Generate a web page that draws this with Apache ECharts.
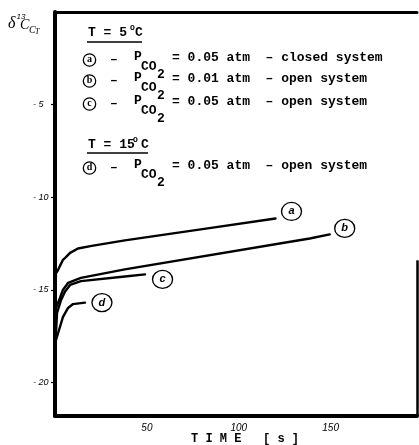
<!DOCTYPE html>
<html>
<head>
<meta charset="utf-8">
<script src="https://cdn.jsdelivr.net/npm/echarts@6/dist/echarts.min.js"></script>
<style>
html,body{margin:0;padding:0;background:#fff;}
#chart{width:419px;height:445px;}
</style>
</head>
<body>
<div id="chart"></div>
<script>
// ---- data (time [s], delta13C of CT) ----
const T_A = [0, 0.3, 0.5, 1.5, 2.7, 4.3, 5.4, 8.2, 12.5, 20, 38, 84, 120];
const V_A = [-18.4, -15.6, -14.1, -13.95, -13.7, -13.38, -13.28, -13.0, -12.76, -12.62, -12.32, -11.66, -11.14];

const T_B = [0, 0.5, 2.7, 4.3, 7.1, 14.1, 38, 138.6, 149.5];
const V_B = [-18.4, -15.97, -15.43, -15.0, -14.62, -14.35, -13.89, -12.22, -12.0];

const T_C = [0, 1.1, 3.3, 5.4, 8.2, 14.1, 38, 49];
const V_C = [-18.4, -16.24, -15.54, -15.1, -14.73, -14.52, -14.27, -14.16];

const T_D = [0, 0.5, 2.2, 4.3, 7.1, 9.8, 16.3];
const V_D = [-18.4, -17.7, -17.16, -16.46, -15.97, -15.76, -15.68];

const CURVE_LETTERS = ['a', 'b', 'c', 'd'];
const X_TICKS = [50, 100, 150];
const Y_TICKS = [-20, -15, -10, -5];
const X_MIN = 0, X_MAX = 197, Y_MIN = -21.8, Y_MAX = 0;

const LEGEND_LETTERS = ['a', 'b', 'c', 'd'];
const LEGEND_TEXT = [
  '= 0.05 atm  \u2013 closed system',
  '= 0.01 atm  \u2013 open system',
  '= 0.05 atm  \u2013 open system',
  '= 0.05 atm  \u2013 open system'
];

// ---- helpers ----
const MONO = '"Liberation Mono", "DejaVu Sans Mono", monospace';
function zip(t, v) { return t.map((x, i) => [x, v[i]]); }
function txt(s, x, y, font, align) {
  return { type: 'text', x: x, y: y, silent: true,
    style: { text: s, font: font || ('bold 13px ' + MONO), fill: '#000',
             align: align || 'left', verticalAlign: 'middle' } };
}
function legendRow(letter, text, y0) {
  return [
    { type: 'circle', shape: { cx: 89.5, cy: y0 + 3, r: 6.2 },
      style: { fill: 'none', stroke: '#000', lineWidth: 1.3 } },
    txt(letter, 89.5, y0 + 2.5, 'bold 10px "Liberation Serif", serif', 'center'),
    txt('\u2013', 110, y0 + 3),
    txt('P', 134, y0),
    txt('CO', 141, y0 + 10),
    txt('2', 157, y0 + 18),
    txt(text, 172, y0 + 1)
  ];
}
const ROW_Y = [57, 78, 101, 165];

const graphics = [];
// y-axis title  delta 13 C CT
graphics.push(txt('\u03b4', 8, 24, 'italic 16px "Liberation Serif", serif'));
graphics.push(txt('13', 16.5, 17, 'italic 8px "Liberation Sans", sans-serif'));
graphics.push(txt('C', 20, 25, 'italic 14px "Liberation Serif", serif'));
graphics.push(txt('C', 29, 30, 'italic 10px "Liberation Serif", serif'));
graphics.push(txt('T', 35, 32, 'italic 8px "Liberation Serif", serif'));
// T = 5 C
graphics.push(txt('T = 5', 88, 33));
graphics.push(txt('O', 130, 28, 'bold 8px ' + MONO));
graphics.push(txt('C', 135, 33));
graphics.push({ type: 'line', shape: { x1: 87, y1: 42, x2: 142, y2: 42 }, style: { stroke: '#000', lineWidth: 1.4 } });
// T = 15 C
graphics.push(txt('T = 15', 88, 145));
graphics.push(txt('O', 133, 140, 'bold 8px ' + MONO));
graphics.push(txt('C', 141, 145));
graphics.push({ type: 'line', shape: { x1: 87, y1: 153, x2: 148, y2: 153 }, style: { stroke: '#000', lineWidth: 1.4 } });
for (let i = 0; i < 4; i++) graphics.push(...legendRow(LEGEND_LETTERS[i], LEGEND_TEXT[i], ROW_Y[i]));

const LABEL_OFFSETS = [[16, -7], [15, -6], [17.5, 5], [17, 0]];
function curve(name, t, v, idx, extra) {
  const s = {
    name: name, type: 'line', data: zip(t, v), xAxisIndex: 0, yAxisIndex: 0,
    showSymbol: false, smooth: false,
    lineStyle: { color: '#000', width: 2.4, cap: 'round', join: 'round' },
    itemStyle: { color: '#000' },
    markPoint: {
      silent: true,
      symbol: 'circle', symbolSize: [20, 18], symbolOffset: LABEL_OFFSETS[idx],
      itemStyle: { color: '#fff', borderColor: '#000', borderWidth: 1.3 },
      label: { show: true, formatter: CURVE_LETTERS[idx], color: '#000',
               fontStyle: 'italic', fontWeight: 'bold', fontSize: 11,
               fontFamily: '"Liberation Sans", sans-serif' },
      data: [{ coord: [t[t.length - 1], v[v.length - 1]] }]
    }
  };
  return Object.assign(s, extra || {});
}

const option = {
  animation: false,
  backgroundColor: '#fff',
  grid: { left: 55, right: 2, top: 12, bottom: 29, containLabel: false, outerBoundsMode: 'none' },
  xAxis: [
    { type: 'value', min: X_MIN, max: X_MAX, position: 'bottom',
      axisLine: { show: true, onZero: false, lineStyle: { color: '#000', width: 4 } },
      axisTick: { show: false },
      splitLine: { show: false },
      axisLabel: { customValues: X_TICKS, color: '#000', fontSize: 10, fontStyle: 'italic',
                   fontFamily: '"Liberation Sans", sans-serif', margin: 7 },
      name: 'T I M E   [ s ]', nameLocation: 'middle', nameGap: 23, nameMoveOverlap: false,
      nameTextStyle: { color: '#000', fontSize: 12, fontWeight: 'bold', fontFamily: MONO,
                       verticalAlign: 'middle', padding: [0, 0, 0, 18] } },
    { type: 'value', min: X_MIN, max: X_MAX, position: 'top',
      axisLine: { show: true, onZero: false, lineStyle: { color: '#000', width: 3 } },
      axisTick: { show: false }, axisLabel: { show: false }, splitLine: { show: false } }
  ],
  yAxis: [
    { type: 'value', min: Y_MIN, max: Y_MAX, position: 'left',
      axisLine: { show: true, onZero: false, lineStyle: { color: '#000', width: 4 } },
      axisTick: { show: true, length: 4, customValues: Y_TICKS, lineStyle: { color: '#000', width: 1.2 } },
      splitLine: { show: false },
      axisLabel: { customValues: Y_TICKS, align: 'left', margin: 22, color: '#000', fontSize: 9,
                   fontStyle: 'italic', fontFamily: '"Liberation Sans", sans-serif',
                   formatter: v => '- ' + Math.abs(v) } }
  ],
  graphic: graphics,
  series: [
    curve('a', T_A, V_A, 0, {
      markLine: { silent: true, symbol: ['none', 'none'], label: { show: false },
        lineStyle: { color: '#000', width: 2.5, type: 'solid' },
        data: [[{ coord: [X_MAX, -13.4] }, { coord: [X_MAX, Y_MIN] }]] }
    }),
    curve('b', T_B, V_B, 1),
    curve('c', T_C, V_C, 2),
    curve('d', T_D, V_D, 3)
  ]
};

const chart = echarts.init(document.getElementById('chart'), null, { renderer: 'canvas' });
chart.setOption(option);
</script>
</body>
</html>
